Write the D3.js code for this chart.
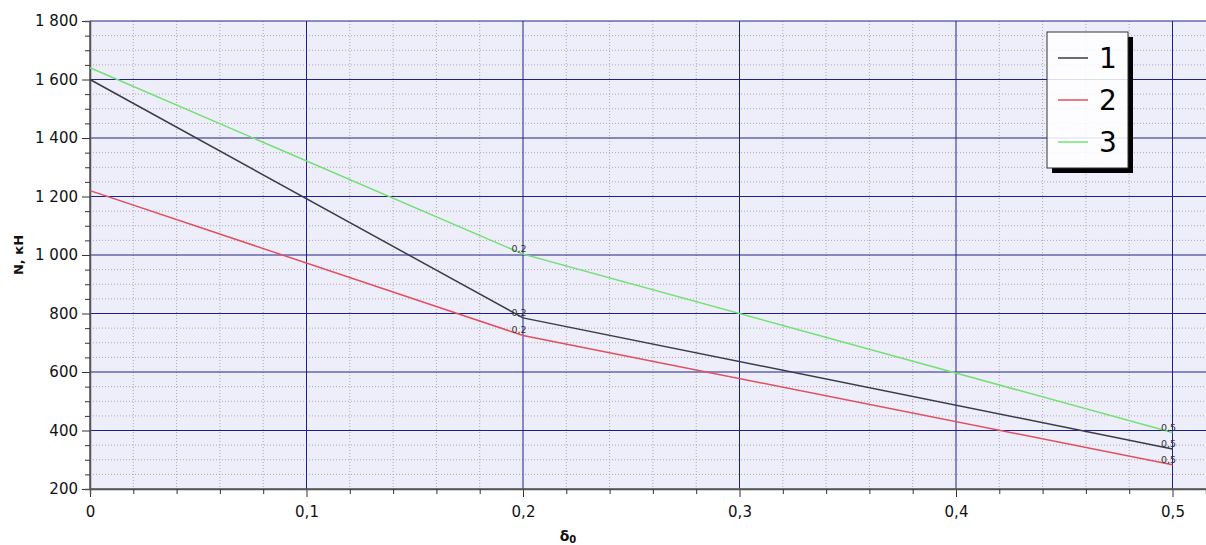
<!DOCTYPE html>
<html><head><meta charset="utf-8">
<script src="https://cdn.jsdelivr.net/npm/d3@7"></script>
<style>body{margin:0;background:#fff}svg{display:block}text{font-family:"DejaVu Sans",Verdana,sans-serif}</style>
</head><body><svg id="c" width="1206" height="545"></svg>
<script>
const xValues = [0, 0.2, 0.5];
const series1 = [1600, 785, 337];
const series2 = [1220, 725, 283];
const series3 = [1640, 1003, 393];
const seriesNames = ["1", "2", "3"];
const seriesColors = ["#3a3a48", "#e0505e", "#74e074"];
const xTicks = [0, 0.1, 0.2, 0.3, 0.4, 0.5];
const yTicks = [200, 400, 600, 800, 1000, 1200, 1400, 1600, 1800];
const pointLabels = ["", "0,2", "0,5"];

const svg = d3.select("#c");
const L = 90, R = 1206, T = 21, B = 489;
const x = d3.scaleLinear().domain([0, 0.5]).range([L, 1172.5]);
const xMax = x.invert(R);
x.domain([0, xMax]).range([L, R]);
const y = d3.scaleLinear().domain([200, 1800]).range([B, T]);

svg.append("rect").attr("x", L).attr("y", T).attr("width", R - L).attr("height", B - T).attr("fill", "#eeeefb");

const xMinor = d3.range(0, xMax + 1e-9, 0.02).filter(v => Math.abs(v * 10 - Math.round(v * 10)) > 1e-6);
const yMinor = d3.range(200, 1800, 50).filter(v => v % 200 !== 0);
const g = svg.append("g");
g.selectAll(".vx").data(xMinor).join("line").attr("x1", d => x(d)).attr("x2", d => x(d)).attr("y1", T).attr("y2", B)
 .attr("stroke", "#a8a8b8").attr("stroke-dasharray", "1,2");
g.selectAll(".hy").data(yMinor).join("line").attr("y1", d => y(d)).attr("y2", d => y(d)).attr("x1", L).attr("x2", R)
 .attr("stroke", "#a8a8b8").attr("stroke-dasharray", "1,2");
g.selectAll(".VX").data(xTicks.slice(1)).join("line").attr("x1", d => x(d)).attr("x2", d => x(d)).attr("y1", T).attr("y2", B)
 .attr("stroke", "#20208a").attr("stroke-width", 1);
g.selectAll(".HY").data(yTicks.slice(1)).join("line").attr("y1", d => y(d)).attr("y2", d => y(d)).attr("x1", L).attr("x2", R)
 .attr("stroke", "#20208a").attr("stroke-width", 1);

const fmt = d => d === 0 ? "0" : d3.format(".1f")(d).replace(".", ",");
const xAxis = svg.append("g").attr("transform", `translate(0,${B})`)
 .call(d3.axisBottom(x).tickValues(xTicks).tickFormat(fmt).tickSize(8).tickPadding(9));
const xAxisMinor = svg.append("g").attr("transform", `translate(0,${B})`)
 .call(d3.axisBottom(x).tickValues(xMinor).tickFormat("").tickSize(5));
const yfmt = d => d3.format(",")(d).replace(",", " ");
const yAxis = svg.append("g").attr("transform", `translate(${L},0)`)
 .call(d3.axisLeft(y).tickValues(yTicks).tickFormat(yfmt).tickSize(8).tickPadding(4));
const yAxisMinor = svg.append("g").attr("transform", `translate(${L},0)`)
 .call(d3.axisLeft(y).tickValues(yMinor).tickFormat("").tickSize(5));
[xAxis, xAxisMinor, yAxis, yAxisMinor].forEach(a => {
  a.selectAll("path.domain").attr("stroke", "#555").attr("stroke-width", 1.5);
  a.selectAll("line").attr("stroke", "#333");
  a.selectAll("text").attr("font-size", 15).attr("fill", "#111").attr("font-family", "DejaVu Sans, Verdana, sans-serif");
});
xAxis.select("path.domain").attr("d", `M${L},0H${R}`);
yAxis.select("path.domain").attr("d", `M0,${B}V${T}`);

const allSeries = [series1, series2, series3];
const line = d3.line().x(d => x(d[0])).y(d => y(d[1]));
allSeries.forEach((s, i) => {
  const pts = xValues.map((xv, j) => [xv, s[j]]);
  svg.append("path").attr("d", line(pts)).attr("fill", "none").attr("stroke", seriesColors[i]).attr("stroke-width", 1.5);
  pts.forEach((p, j) => {
    if (!pointLabels[j]) return;
    svg.append("text").attr("x", x(p[0]) - 4).attr("y", y(p[1]) - 2).attr("text-anchor", "middle")
      .attr("font-size", 9.5).attr("fill", "#333").text(pointLabels[j]);
  });
});

// legend
const lg = svg.append("g");
const lx = 1047, ly = 32, lw = 81, lh = 136, sh = 5;
lg.append("rect").attr("x", lx + lw).attr("y", ly + sh).attr("width", sh).attr("height", lh).attr("fill", "#000");
lg.append("rect").attr("x", lx + sh).attr("y", ly + lh).attr("width", lw).attr("height", sh).attr("fill", "#000");
lg.append("rect").attr("x", lx).attr("y", ly).attr("width", lw).attr("height", lh).attr("fill", "rgba(255,255,255,0.85)").attr("stroke", "#333").attr("stroke-width", 1);
seriesNames.forEach((n, i) => {
  const cy = 58 + i * 42;
  lg.append("line").attr("x1", 1058).attr("x2", 1088).attr("y1", cy).attr("y2", cy).attr("stroke", seriesColors[i]).attr("stroke-width", 1.5);
  lg.append("text").attr("x", 1099).attr("y", cy + 10).attr("font-size", 28).attr("fill", "#000").text(n);
});

// titles
svg.append("text").attr("transform", `translate(23,255) rotate(-90)`).attr("text-anchor", "middle")
  .attr("font-size", 13).attr("font-weight", "bold").attr("fill", "#111").text("N, кН");
const xt = svg.append("text").attr("x", 568).attr("y", 541).attr("text-anchor", "middle").attr("font-size", 14).attr("font-weight", "bold").attr("fill", "#111");
xt.append("tspan").text("δ");
xt.append("tspan").attr("font-size", 10).attr("dy", 2).text("0");
</script></body></html>
